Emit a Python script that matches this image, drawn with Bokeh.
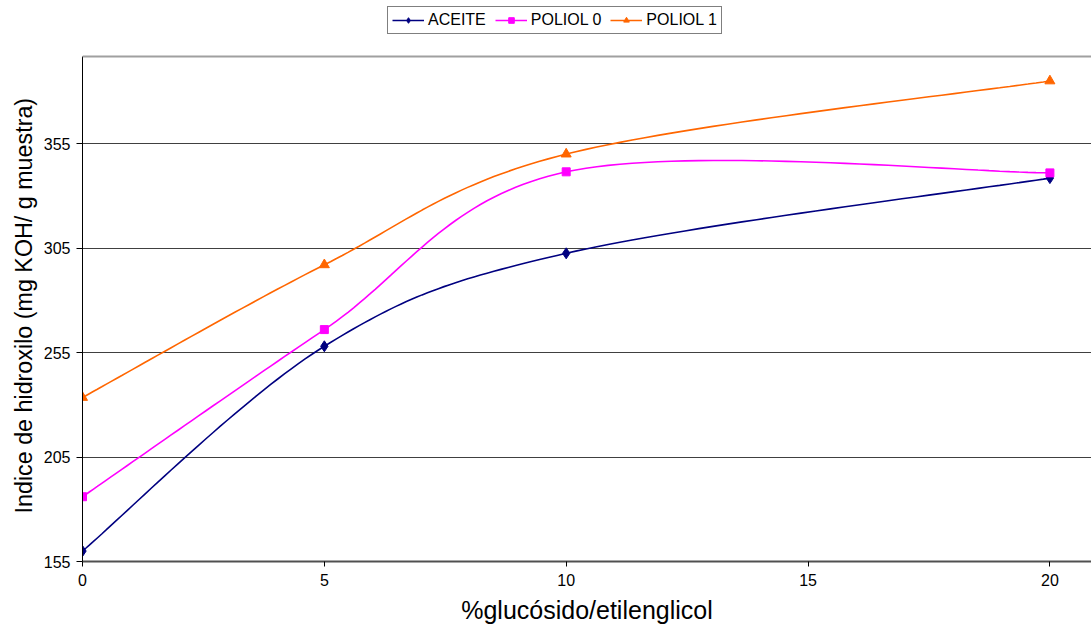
import numpy as np
from bokeh.plotting import figure
from bokeh.models import Range1d, Legend, LegendItem, FixedTicker, Span, Title
from bokeh.embed import file_html
from bokeh.resources import INLINE

# Hydroxyl index vs. glucoside/ethylene glycol percentage
x_vals = [0, 5, 10, 20]
aceite = [160, 258, 302.5, 338.5]
poliol0 = [186, 266, 341.5, 341]
poliol1 = [233.5, 297, 350, 385]
series_names = ["ACEITE", "POLIOL 0", "POLIOL 1"]
y_ticks = [155, 205, 255, 305, 355]
x_ticks = [0, 5, 10, 15, 20]

FONT = "Liberation Sans"


def smooth(xs, ys, n=40):
    """Cubic Bezier smoothing through every point (spreadsheet-style smoothed line)."""
    pts = np.column_stack([xs, ys]).astype(float)
    m = len(pts)
    parts = []
    for i in range(m - 1):
        p0 = pts[max(i - 1, 0)]
        p1 = pts[i]
        p2 = pts[i + 1]
        p3 = pts[min(i + 2, m - 1)]
        c1 = p1 + (p2 - p0) / 6.0
        c2 = p2 - (p3 - p1) / 6.0
        t = np.linspace(0, 1, n)[:, None]
        seg = (1 - t) ** 3 * p1 + 3 * (1 - t) ** 2 * t * c1 + 3 * (1 - t) * t ** 2 * c2 + t ** 3 * p2
        parts.append(seg if i == 0 else seg[1:])
    a = np.vstack(parts)
    return a[:, 0], a[:, 1]


# plotted value window; the frame extends above it to hold the legend
Y_MIN, Y_MAX = 155, 396.7
PX_PER_UNIT = 505 / (Y_MAX - Y_MIN)
FRAME_H = 627 - 66
Y_TOP = Y_MIN + FRAME_H / PX_PER_UNIT

p = figure(width=1091, height=627,
           x_range=Range1d(0, 20.86), y_range=Range1d(Y_MIN, Y_TOP),
           output_backend="svg", toolbar_location=None,
           min_border_left=82, min_border_right=0,
           min_border_top=0, min_border_bottom=66)
p.outline_line_color = None
p.background_fill_color = "white"
p.border_fill_color = "white"

# grid
p.xgrid.grid_line_color = None
p.ygrid.ticker = FixedTicker(ticks=y_ticks)
p.ygrid.grid_line_color = "#404040"
p.ygrid.grid_line_width = 1

# top edge of the plotting area
p.add_layout(Span(location=Y_MAX, dimension="width", line_color="#a0a0a0", line_width=2))

# axes
p.xaxis.ticker = FixedTicker(ticks=x_ticks)
p.yaxis.ticker = FixedTicker(ticks=y_ticks)
p.yaxis.bounds = (Y_MIN, Y_MAX)
p.xaxis.axis_label = "%glucósido/etilenglicol"
for ax in (p.xaxis, p.yaxis):
    ax.axis_label_text_font = FONT
    ax.axis_label_text_font_style = "normal"
    ax.axis_label_text_color = "black"
    ax.major_label_text_font = FONT
    ax.major_label_text_font_size = "16px"
    ax.major_label_text_color = "black"
    ax.minor_tick_line_color = None
    ax.major_tick_in = 0
    ax.major_tick_line_color = "black"
p.xaxis.axis_label_text_font_size = "25px"
p.xaxis.axis_line_color = "#505050"
p.xaxis.axis_line_width = 2
p.xaxis.major_tick_out = 5
p.xaxis.major_label_standoff = 7
p.xaxis.axis_label_standoff = 7
p.yaxis.axis_line_color = "black"
p.yaxis.major_tick_out = 6
p.yaxis.major_label_standoff = 6

# y-axis title, placed along the value window rather than the whole frame
y_title = Title(text="Indice de hidroxilo (mg KOH/ g muestra)", align="left",
                offset=48, standoff=8,
                text_font=FONT, text_font_size="23.3px", text_font_style="normal",
                text_color="black")
p.add_layout(y_title, "left")

styles = [
    (aceite, "#000080", "diamond", 11),
    (poliol0, "#FF00FF", "square", 8),
    (poliol1, "#FF6600", "triangle", 10),
]

items = []
for name, (vals, color, marker, size) in zip(series_names, styles):
    sx, sy = smooth(x_vals, vals)
    ln = p.line(sx, sy, line_color=color, line_width=1.6)
    sc = p.scatter(x_vals, vals, marker=marker, size=size,
                   fill_color=color, line_color=color)
    items.append(LegendItem(label=name, renderers=[ln, sc]))

legend = Legend(items=items, orientation="horizontal", location=(305, 527),
                label_text_font=FONT, label_text_font_size="16px",
                label_text_color="black",
                glyph_width=32, glyph_height=14, label_standoff=4,
                spacing=9, padding=4, margin=0,
                border_line_color="black", border_line_width=1,
                background_fill_color="white", background_fill_alpha=1)
p.add_layout(legend)

open("out.html", "w").write(file_html(p, INLINE))
